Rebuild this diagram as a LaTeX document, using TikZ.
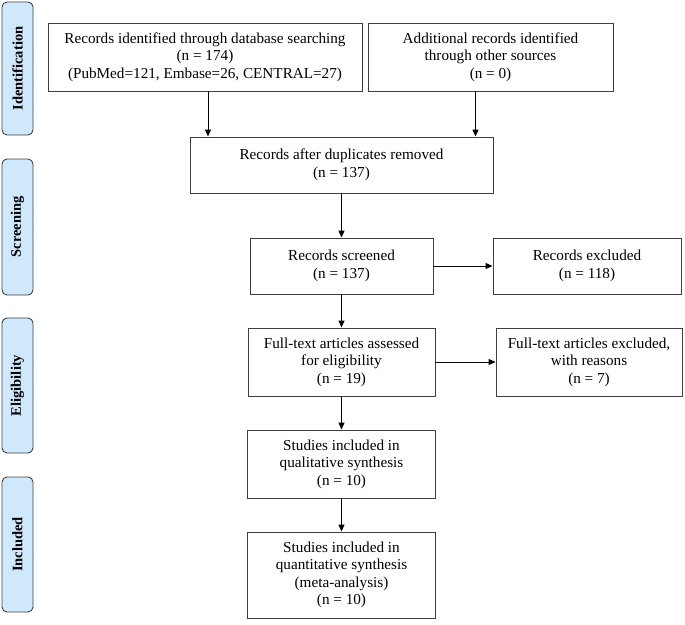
\documentclass[tikz,border=0pt]{standalone}
\usepackage{fontspec}
\setmainfont{Liberation Serif}
\usepackage{xcolor}
\usetikzlibrary{arrows.meta,calc}
\definecolor{phasefill}{HTML}{CFE8FB}
\definecolor{boxline}{HTML}{404040}
\tikzset{
	flowbox/.style={draw=boxline, line width=0.9pt, align=center, inner sep=2pt,
			font=\fontsize{15.2}{17.5}\selectfont},
	phase/.style={draw=boxline, fill=phasefill, rounded corners=5pt, line width=0.9pt,
			minimum width=31pt, rotate=90, font=\bfseries\fontsize{14.5}{16}\selectfont},
	arr/.style={-{Triangle[length=7pt,width=6pt]}, line width=1pt}
}

\begin{document}
\begin{tikzpicture}[x=1pt,y=-1pt]
	\useasboundingbox (0,0) rectangle (685,624);

	% phases on the left
	\node[phase, minimum width=133pt, minimum height=31pt] (ident) at (17.5,68.5) {Identification};
	\node[phase, minimum width=136pt, minimum height=31pt] (screen) at (17.5,227) {Screening};
	\node[phase, minimum width=135pt, minimum height=31pt] (elig) at (17.5,385.5) {Eligibility};
	\node[phase, minimum width=135pt, minimum height=31pt] (incl) at (17.5,544.5) {Included};

	% boxes
	\node[flowbox, minimum width=314pt, minimum height=68pt] (db) at (205,57)
		{Records identified through database searching\\(n = 174)\\(PubMed=121, Embase=26, CENTRAL=27)};
	\node[flowbox, minimum width=245pt, minimum height=68pt] (other) at (490.5,57)
		{Additional records identified\\through other sources\\(n = 0)};
	\node[flowbox, minimum width=303pt, minimum height=56pt] (dup) at (341.5,165)
		{Records after duplicates removed\\(n = 137)};
	\node[flowbox, minimum width=183pt, minimum height=56pt] (scr) at (341.5,266)
		{Records screened\\(n = 137)};
	\node[flowbox, minimum width=188pt, minimum height=56pt] (excl) at (587,266)
		{Records excluded\\(n = 118)};
	\node[flowbox, minimum width=187pt, minimum height=68pt] (full) at (341.5,362)
		{Full-text articles assessed\\for eligibility\\(n = 19)};
	\node[flowbox, minimum width=186pt, minimum height=68pt] (fexcl) at (589,362)
		{Full-text articles excluded,\\with reasons\\(n = 7)};
	\node[flowbox, minimum width=188pt, minimum height=68pt] (qual) at (341.5,464)
		{Studies included in\\qualitative synthesis\\(n = 10)};
	\node[flowbox, minimum width=188pt, minimum height=86pt] (quant) at (341.5,575)
		{Studies included in\\quantitative synthesis\\(meta-analysis)\\(n = 10)};

	% arrows
	\draw[arr] ([xshift=3pt]db.south) -- ([xshift=3pt]db.south |- dup.north);
	\draw[arr] ([xshift=-15pt]other.south) -- ([xshift=-15pt]other.south |- dup.north);
	\draw[arr] (dup) -- (scr);
	\draw[arr] (scr) -- (excl);
	\draw[arr] (scr) -- (full);
	\draw[arr] (full) -- (fexcl);
	\draw[arr] (full) -- (qual);
	\draw[arr] (qual) -- (quant);
\end{tikzpicture}
\end{document}
